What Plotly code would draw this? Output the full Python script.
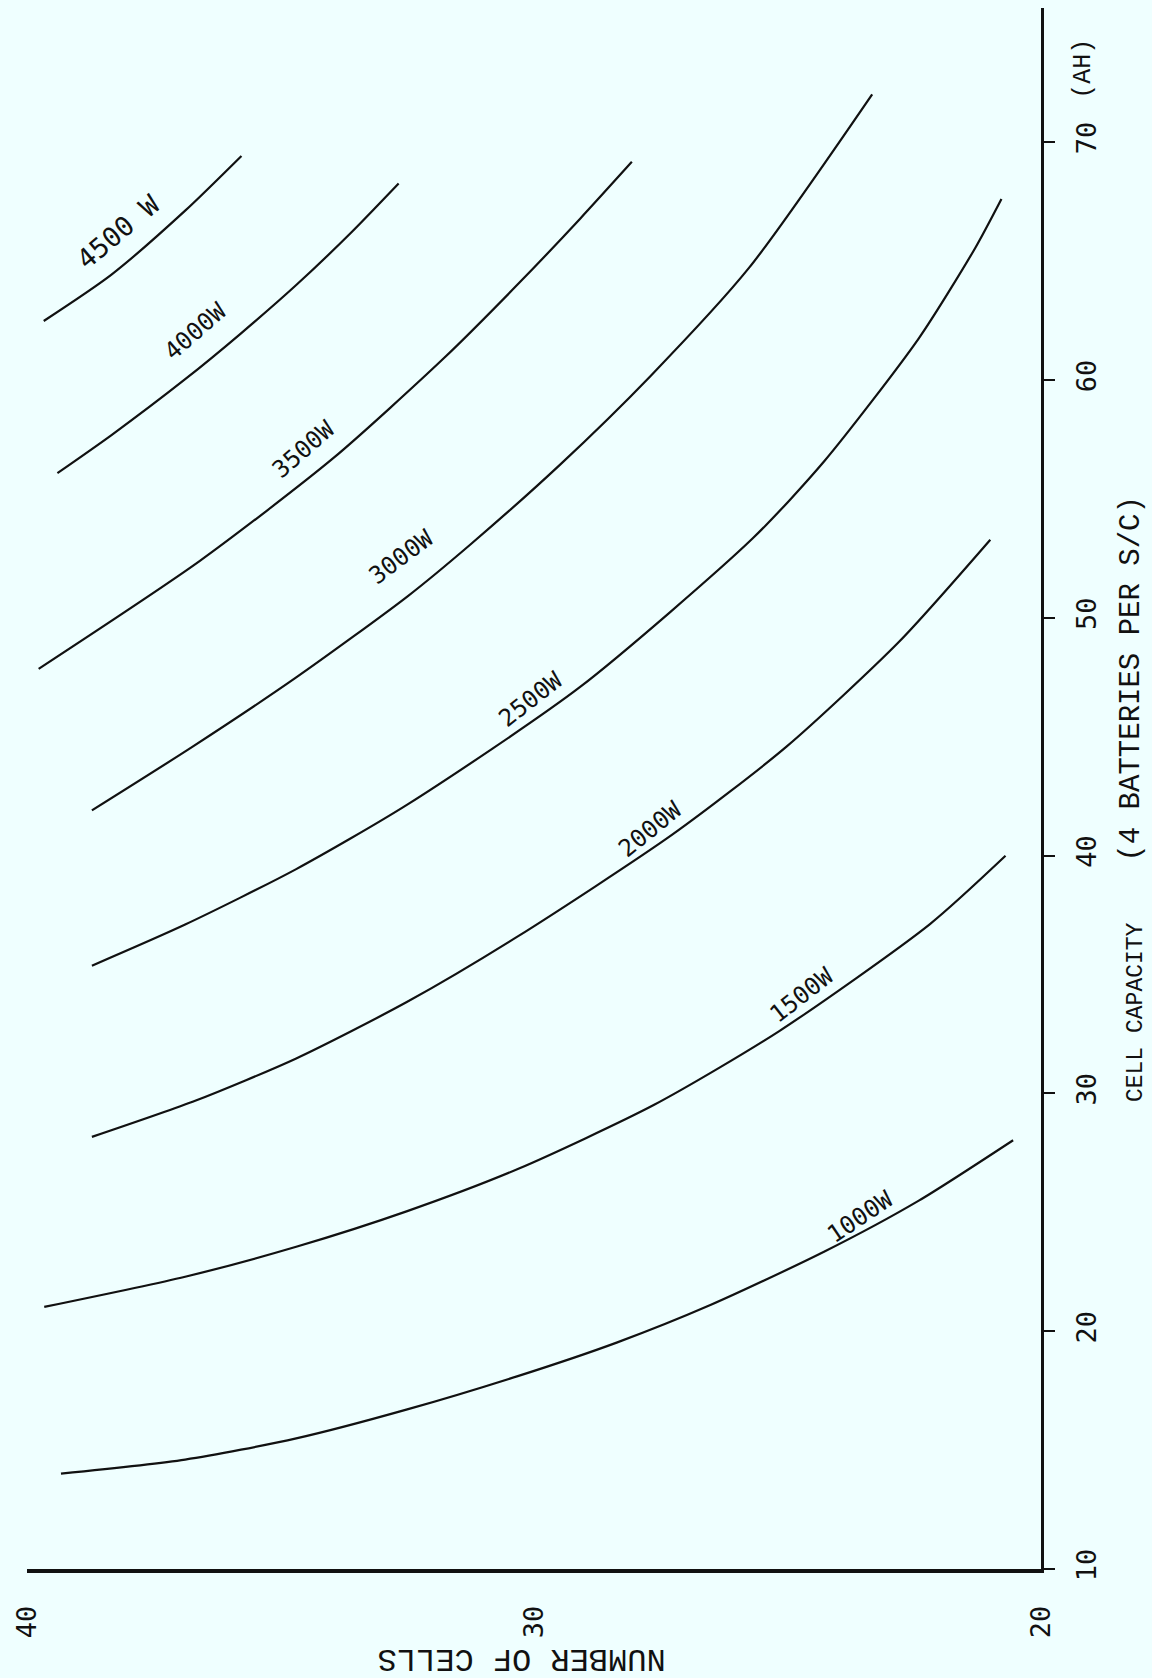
import plotly.graph_objects as go

# ---- data ----
# x: number of cells, y: cell capacity (AH)
p1000_cells = [39.33, 36.88, 34.69, 32.50, 30.32, 28.37, 26.51, 24.27, 22.41, 20.55]
p1000_ah    = [14.01, 14.60, 15.49, 16.71, 18.11, 19.52, 21.11, 23.35, 25.49, 28.03]

p1500_cells = [39.66, 36.88, 34.69, 32.50, 30.32, 27.63, 25.17, 22.19, 20.70]
p1500_ah    = [21.02, 22.29, 23.55, 25.05, 26.82, 29.52, 32.61, 37.12, 39.99]

p2000_cells = [38.72, 36.67, 34.69, 32.50, 30.32, 27.26, 25.02, 22.79, 21.00]
p2000_ah    = [28.17, 29.70, 31.47, 33.85, 36.60, 40.90, 44.58, 49.01, 53.28]

p2500_cells = [38.72, 36.88, 34.69, 32.50, 29.09, 25.69, 24.28, 22.41, 21.30, 20.78]
p2500_ah    = [35.37, 37.10, 39.43, 42.14, 47.09, 53.33, 56.57, 61.75, 65.54, 67.61]

p3000_cells = [38.72, 36.74, 34.69, 32.50, 31.26, 29.49, 27.70, 25.76, 23.33]
p3000_ah    = [41.90, 44.57, 47.49, 50.89, 53.07, 56.43, 60.17, 64.71, 72.01]

p3500_cells = [39.77, 36.59, 33.96, 31.78, 30.32, 29.09, 28.07]
p3500_ah    = [47.85, 52.39, 56.71, 60.91, 64.02, 66.78, 69.17]

p4000_cells = [39.40, 38.34, 36.88, 35.79, 34.69, 33.60, 32.67]
p4000_ah    = [56.08, 57.67, 60.03, 61.94, 63.99, 66.21, 68.26]

p4500_cells = [39.67, 38.34, 36.88, 35.77]
p4500_ah    = [62.48, 64.42, 67.12, 69.42]

curve_labels = ["1000W", "1500W", "2000W", "2500W", "3000W", "3500W", "4000W", "4500 W"]
label_cells  = [23.57, 24.72, 27.70, 30.06, 32.62, 34.54, 36.67, 38.20]
label_ah     = [24.80, 34.15, 41.10, 46.60, 52.55, 57.10, 62.05, 66.25]
label_angles = [-34, -38, -39, -38, -37, -41, -41, -40]
label_sizes  = [24, 24, 24, 24, 24, 24, 24, 27]

x_ticks = [40, 30, 20]
x_tick_text = ["40", "30", "20"]
y_ticks = [10, 20, 30, 40, 50, 60, 70]
y_tick_text = ["10", "20", "30", "40", "50", "60", "70"]

BG = "#EFFFFF"
INK = "#111111"
MONO = "Liberation Mono, DejaVu Sans Mono, monospace"
SANSMONO = "DejaVu Sans Mono, Liberation Mono, monospace"

fig = go.Figure()
series = [
    (p1000_cells, p1000_ah), (p1500_cells, p1500_ah), (p2000_cells, p2000_ah),
    (p2500_cells, p2500_ah), (p3000_cells, p3000_ah), (p3500_cells, p3500_ah),
    (p4000_cells, p4000_ah), (p4500_cells, p4500_ah),
]
for (cx, cy), name in zip(series, curve_labels):
    fig.add_trace(go.Scatter(
        x=cx, y=cy, mode="lines", name=name,
        line=dict(color=INK, width=2.2, shape="spline", smoothing=0.7),
        hoverinfo="skip",
    ))

for t, cx, cy, ang, sz in zip(curve_labels, label_cells, label_ah, label_angles, label_sizes):
    fig.add_annotation(x=cx, y=cy, xref="x", yref="y", text=t, showarrow=False,
                       textangle=ang, font=dict(family=SANSMONO, size=sz, color=INK))

# axis titles (rotated like the scanned original)
fig.add_annotation(x=1.058, y=73.1, xref="paper", yref="y", text="(AH)",
                   showarrow=False, textangle=-90,
                   font=dict(family=MONO, size=25, color=INK))
fig.add_annotation(x=1.108, y=33.4, xref="paper", yref="y", text="CELL CAPACITY",
                   showarrow=False, textangle=-90,
                   font=dict(family=MONO, size=23, color=INK))
fig.add_annotation(x=1.108, y=47.4, xref="paper", yref="y",
                   text="(4 BATTERIES PER S/C)",
                   showarrow=False, textangle=-90,
                   font=dict(family=MONO, size=29, color=INK))
fig.add_annotation(x=30.24, y=-0.07, xref="x", yref="paper", text="NUMBER OF CELLS",
                   showarrow=False, textangle=180,
                   font=dict(family=MONO, size=32, color=INK))

fig.update_layout(
    width=1152, height=1678,
    margin=dict(l=27, r=111, t=8, b=109),
    paper_bgcolor=BG, plot_bgcolor=BG,
    showlegend=False,
    xaxis=dict(range=[40, 20], showgrid=False, zeroline=False,
               showline=True, linewidth=4, linecolor=INK,
               tickmode="array", tickvals=x_ticks, ticktext=x_tick_text,
               ticks="", tickangle=-90, ticklabelstandoff=22,
               tickfont=dict(family=SANSMONO, size=27, color=INK),
               automargin=False, fixedrange=True),
    yaxis=dict(range=[10, 75.64], side="right", showgrid=False, zeroline=False,
               showline=True, linewidth=3, linecolor=INK,
               tickmode="array", tickvals=y_ticks, ticktext=y_tick_text,
               ticks="outside", ticklen=11, tickwidth=2, tickcolor=INK,
               tickangle=-90, ticklabelstandoff=9,
               tickfont=dict(family=SANSMONO, size=27, color=INK),
               automargin=False, fixedrange=True),
)

fig.write_html(
    "out.html",
    config={"displayModeBar": False, "staticPlot": True},
    post_script=("document.body.style.margin='0';"
                 "document.body.style.padding='0';"
                 "document.body.style.overflow='hidden';"
                 "document.body.style.background='" + BG + "';"),
)
